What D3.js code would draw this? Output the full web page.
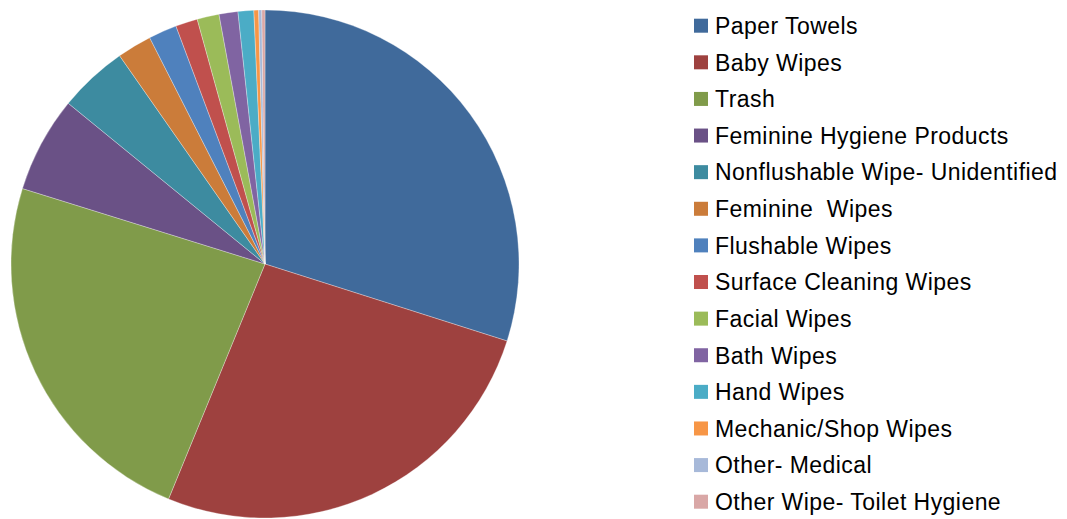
<!DOCTYPE html>
<html>
    <head>
        <meta charset="utf-8">
        <title>Pie</title>
        <script src="https://d3js.org/d3.v7.min.js"></script>
        <style>
            body { margin: 0; background: #fff; }
        </style>
    </head>
    <body>
        <script>

        // Categories and their shares (percent)
        const categories = [
            "Paper Towels", "Baby Wipes", "Trash", "Feminine Hygiene Products",
            "Nonflushable Wipe- Unidentified", "Feminine  Wipes", "Flushable Wipes",
            "Surface Cleaning Wipes", "Facial Wipes", "Bath Wipes", "Hand Wipes",
            "Mechanic/Shop Wipes", "Other- Medical", "Other Wipe- Toilet Hygiene"
        ];
        const values = [29.9, 26.3, 23.6, 6.1, 4.4, 2.2, 1.8, 1.4, 1.4, 1.2, 1.0, 0.3, 0.2, 0.2];
        const colors = [
            "#406a9b", "#9e413f", "#809b4a", "#6a5186", "#3d8ba0", "#cb7c3a", "#4f81bd",
            "#c0504d", "#9bbb59", "#8064a2", "#4bacc6", "#f79646", "#a7b9d9", "#d9a7a6"
        ];

        const width = 1067;
        const height = 519;
        const cx = 265, cy = 264, radius = 254;

        const data = categories.map((c, i) => ({ name: c, value: values[i] }));

        const svg = d3.select("body").append("svg")
            .attr("width", width)
            .attr("height", height);

        const color = d3.scaleOrdinal()
            .domain(categories)
            .range(colors);

        const pie = d3.pie()
            .value(d => d.value)
            .sort(null);

        const arc = d3.arc()
            .innerRadius(0)
            .outerRadius(radius);

        svg.append("g")
            .attr("transform", `translate(${cx},${cy})`)
            .selectAll("path")
            .data(pie(data))
            .join("path")
            .attr("d", arc)
            .attr("fill", d => color(d.data.name))
            .attr("stroke", "#ffffff")
            .attr("stroke-opacity", 0.5)
            .attr("stroke-width", 0.6);

        // Legend
        const legendY = d3.scalePoint()
            .domain(categories)
            .range([25.7, 501.7]);

        const legend = svg.append("g")
            .selectAll("g")
            .data(categories)
            .join("g")
            .attr("transform", d => `translate(694,${legendY(d)})`);

        legend.append("rect")
            .attr("x", 0)
            .attr("y", -7)
            .attr("width", 14)
            .attr("height", 14)
            .attr("fill", d => color(d));

        legend.append("text")
            .attr("x", 21)
            .attr("y", 0)
            .attr("dy", "0.36em")
            .attr("font-family", "Liberation Sans, Arial, sans-serif")
            .attr("font-size", 23)
            .attr("letter-spacing", 0.45)
            .attr("fill", "#000")
            .style("white-space", "pre")
            .text(d => d);

        </script>
    </body>
</html>
